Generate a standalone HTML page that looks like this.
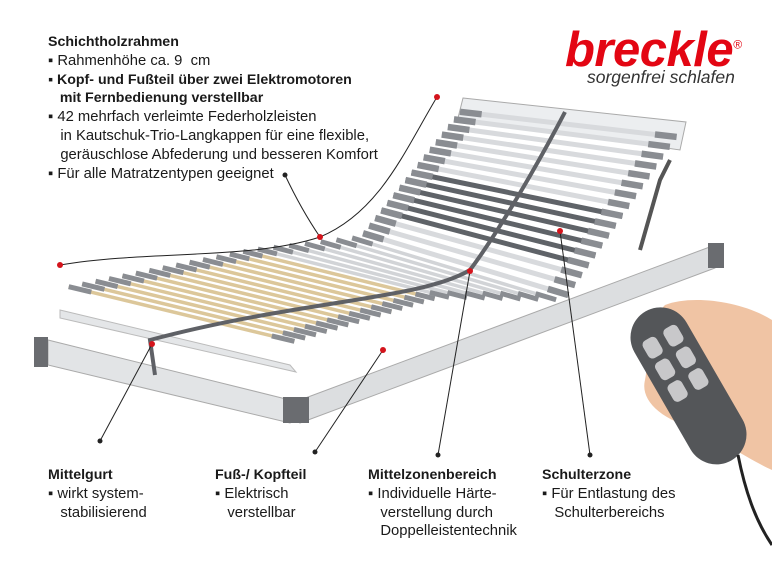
<!DOCTYPE html>
<html><head><meta charset="utf-8"><style>
body{margin:0;width:772px;height:579px;background:#fff;overflow:hidden;position:relative;font-family:"Liberation Sans",sans-serif;color:#1a1a1a}
.t{position:absolute;font-size:14.8px;line-height:18.8px;white-space:nowrap}
.b{font-weight:bold;font-size:14.2px}
.logo{position:absolute;left:565px;top:22px;font-size:49px;font-weight:900;font-style:italic;color:#e30613;letter-spacing:-0.5px;font-family:"Liberation Sans",sans-serif}
.sub{position:absolute;left:587px;top:67px;font-size:17.5px;font-style:italic;color:#333}
</style></head><body>
<svg id="s" width="772" height="579" style="position:absolute;left:0;top:0">
<polygon points="60,310 290,365 296,372 60,318" fill="#e4e6e8" stroke="#bbb"/>
<polygon points="48,340 290,400 290,423 48,365" fill="#e2e4e6" stroke="#aaa"/>
<polygon points="300,400 715,245 715,268 300,423" fill="#dcdee0" stroke="#aaa"/>
<rect x="34" y="337" width="14" height="30" fill="#6a6c70"/>
<rect x="283" y="397" width="26" height="26" fill="#6a6c70"/>
<rect x="708" y="243" width="16" height="25" fill="#6a6c70"/>
<polygon points="463,98 686,122 680,150 458,118" fill="#eceef0" stroke="#aaa"/>
<g id="slats"></g>
<path d="M565,112 C540,160 500,230 470,270 C420,300 300,300 150,340 L155,375" stroke="#5f6166" stroke-width="4" fill="none"/>
<path d="M640,250 L660,180 L670,160" stroke="#555" stroke-width="4" fill="none"/>
<g stroke="#222" stroke-width="1" fill="none">
<path d="M60,265 C150,250 250,260 320,237 C380,212 405,150 437,97"/>
<path d="M320,237 C305,215 293,192 285,175"/>
<path d="M100,441 L152,344"/><path d="M315,452 L383,350"/>
<path d="M438,455 L470,271"/><path d="M590,455 L560,231"/></g>
<g fill="#d4141c"><circle cx="60" cy="265" r="3"/><circle cx="437" cy="97" r="3"/><circle cx="320" cy="237" r="3"/><circle cx="152" cy="344" r="3"/><circle cx="383" cy="350" r="3"/><circle cx="470" cy="271" r="3"/><circle cx="560" cy="231" r="3"/></g>
<g fill="#222"><circle cx="285" cy="175" r="2.5"/><circle cx="100" cy="441" r="2.5"/><circle cx="315" cy="452" r="2.5"/><circle cx="438" cy="455" r="2.5"/><circle cx="590" cy="455" r="2.5"/></g>
<path d="M665,305 C690,295 740,300 772,320 L772,470 C750,460 720,440 700,430 C660,420 640,400 645,380 C650,360 640,330 665,305Z" fill="#f0c4a4"/>
<g transform="rotate(-30 688 385)"><rect x="658" y="300" width="60" height="172" rx="30" fill="#545659"/>
<g fill="#c8c8ca"><rect x="668" y="325" width="16" height="20" rx="5"/><rect x="692" y="325" width="16" height="20" rx="5"/><rect x="668" y="350" width="16" height="20" rx="5"/><rect x="692" y="350" width="16" height="20" rx="5"/><rect x="668" y="375" width="16" height="20" rx="5"/><rect x="692" y="375" width="16" height="20" rx="5"/></g></g>
<path d="M738,455 C745,490 755,520 772,545" stroke="#222" stroke-width="3" fill="none"/>
</svg>
<script>
(function(){var g=document.getElementById('slats'),ns='http://www.w3.org/2000/svg';
function L(a,b,t){return [a[0]+(b[0]-a[0])*t,a[1]+(b[1]-a[1])*t];}
function line(p,q,c,w){var l=document.createElementNS(ns,'line');l.setAttribute('x1',p[0]);l.setAttribute('y1',p[1]);l.setAttribute('x2',q[0]);l.setAttribute('y2',q[1]);l.setAttribute('stroke',c);l.setAttribute('stroke-width',w);g.appendChild(l);}
function sec(A,B,C,D,n,col,w){for(var i=n-1;i>=0;i--){var t=(i+0.5)/n,p=L(A,B,t),q=L(C,D,t);var c=col(t);line(p,q,c,w);var p2=L(p,q,0.1),q2=L(p,q,0.9);line(p,p2,'#8a8d92',w+1.5);line(q2,q,'#8a8d92',w+1.5);}}
sec([62,288],[250,250],[289,343],[440,297],14,function(){return '#dcc79a';},3.5);
sec([250,250],[360,237],[440,297],[565,300],7,function(){return '#d2d4d7';},3.5);
sec([360,237],[463,108],[565,300],[680,132],17,function(t){return (t>0.2&&t<0.55)?'#5f6368':'#d8dadd';},5);
})();
</script>
<div class="logo">breckle<sup style="font-size:12px;font-weight:normal">®</sup></div>
<div class="sub">sorgenfrei schlafen</div>
<div class="t" style="left:48px;top:33px"><span class="b">Schichtholzrahmen</span><br>▪ Rahmenhöhe ca. 9&nbsp; cm<br><span class="b">▪ Kopf- und Fußteil über zwei Elektromotoren<br>&nbsp;&nbsp;&nbsp;mit Fernbedienung verstellbar</span><br>▪ 42 mehrfach verleimte Federholzleisten<br>&nbsp;&nbsp;&nbsp;in Kautschuk-Trio-Langkappen für eine flexible,<br>&nbsp;&nbsp;&nbsp;geräuschlose Abfederung und besseren Komfort<br>▪ Für alle Matratzentypen geeignet</div>
<div class="t" style="left:48px;top:466px"><span class="b">Mittelgurt</span><br>▪ wirkt system-<br>&nbsp;&nbsp;&nbsp;stabilisierend</div>
<div class="t" style="left:215px;top:466px"><span class="b">Fuß-/ Kopfteil</span><br>▪ Elektrisch<br>&nbsp;&nbsp;&nbsp;verstellbar</div>
<div class="t" style="left:368px;top:466px"><span class="b">Mittelzonenbereich</span><br>▪ Individuelle Härte-<br>&nbsp;&nbsp;&nbsp;verstellung durch<br>&nbsp;&nbsp;&nbsp;Doppelleistentechnik</div>
<div class="t" style="left:542px;top:466px"><span class="b">Schulterzone</span><br>▪ Für Entlastung des<br>&nbsp;&nbsp;&nbsp;Schulterbereichs</div>
</body></html>
